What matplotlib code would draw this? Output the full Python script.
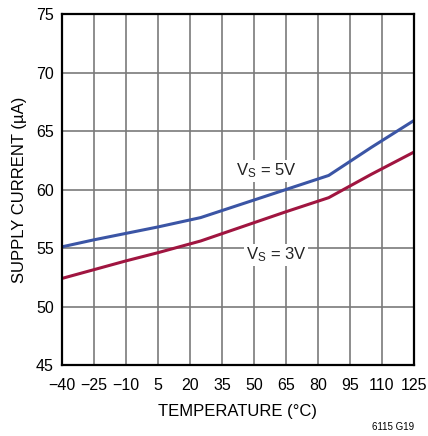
import numpy as np
import matplotlib
matplotlib.use('Agg')
import matplotlib.pyplot as plt

plt.rcParams['font.family'] = ['Liberation Sans', 'DejaVu Sans']

temp = [-40, -25, -10, 5, 25, 45, 65, 85, 105, 125]
i_5v = [55.1, 55.7, 56.25, 56.8, 57.6, 58.8, 60.0, 61.2, 63.6, 65.9]
i_3v = [52.4, 53.15, 53.9, 54.6, 55.6, 56.85, 58.1, 59.3, 61.3, 63.2]

xticks = [-40, -25, -10, 5, 20, 35, 50, 65, 80, 95, 110, 125]
xlabels = ['\u221240', '\u221225', '\u221210', '5', '20', '35', '50', '65', '80', '95', '110', '125']
yticks = [45, 50, 55, 60, 65, 70, 75]

fig = plt.figure(figsize=(4.28, 4.36), dpi=100)
ax = fig.add_axes([62 / 428, 1 - 365 / 436, 352 / 428, 351 / 436])

ax.plot(temp, i_5v, color='#3b55a5', lw=2.2, solid_capstyle='butt')
ax.plot(temp, i_3v, color='#a01540', lw=2.2, solid_capstyle='butt')

ax.set_xlim(-40, 125)
ax.set_ylim(45, 75)
ax.set_xticks(xticks)
ax.set_xticklabels(xlabels)
ax.set_yticks(yticks)
ax.tick_params(axis='x', length=0, labelsize=11.5, pad=9)
ax.tick_params(axis='y', length=0, labelsize=11.5, pad=6)
ax.grid(True, color='#7a7a7a', lw=1.2)
ax.set_axisbelow(True)
for s in ax.spines.values():
    s.set_linewidth(1.6)
    s.set_color('black')

ax.set_xlabel('TEMPERATURE (\u00b0C)', fontsize=12, labelpad=8)
ax.set_ylabel('SUPPLY CURRENT (\u00b5A)', fontsize=12, labelpad=6)

fig.text(266 / 428, 1 - 171 / 436, '$\\mathregular{V_S}$ = 5V', fontsize=12,
         ha='center', va='center', color='#222222',
         bbox=dict(facecolor='white', edgecolor='none', pad=1))
fig.text(276 / 428, 1 - 255 / 436, '$\\mathregular{V_S}$ = 3V', fontsize=12,
         ha='center', va='center', color='#222222',
         bbox=dict(facecolor='white', edgecolor='none', pad=1))
fig.text(414 / 428, 1 - 432 / 436, '6115 G19', fontsize=7, ha='right', va='bottom')

fig.savefig('out.png', dpi=100)
